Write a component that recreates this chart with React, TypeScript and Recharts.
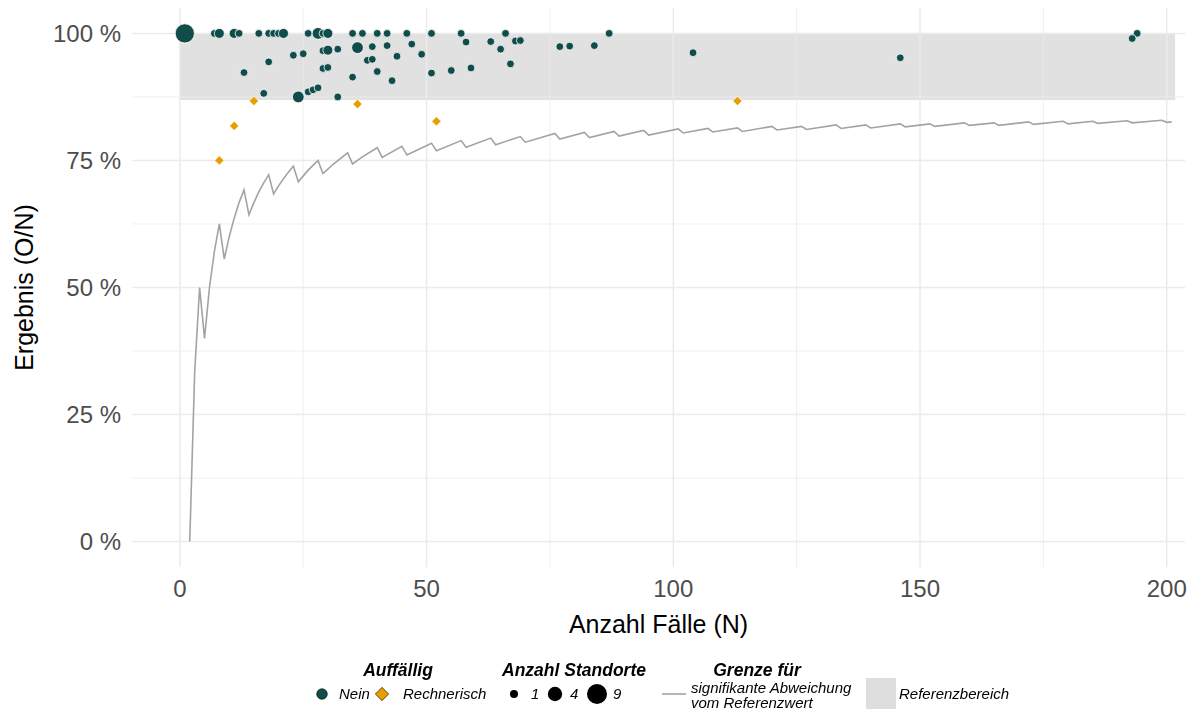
import React from 'react';
import {
  ComposedChart,
  Scatter,
  Line,
  XAxis,
  YAxis,
  ZAxis,
  ReferenceArea,
  ReferenceLine,
  Label,
} from 'recharts';

// Standorte, unauffällig: Fälle N, Ergebnis in %, Anzahl Standorte
const neinN = [1, 7, 8, 11, 12, 16, 18, 19, 20, 21, 26, 28, 29, 30, 35, 37, 40, 42, 46, 51, 57, 66, 87, 194,
  13, 17, 18, 23, 24, 25, 26, 27, 28, 29, 29, 30, 30, 32, 32, 35, 36, 38, 39, 39, 40, 42, 43, 44, 47, 49,
  51, 55, 58, 59, 63, 65, 67, 68, 69, 77, 79, 84, 104, 146, 193];
const neinWert = [100, 100, 100, 100, 100, 100, 100, 100, 100, 100, 100, 100, 100, 100, 100, 100, 100, 100, 100, 100, 100, 100, 100, 100,
  92.3, 88.2, 94.4, 95.7, 87.5, 96.0, 88.5, 88.9, 89.3, 96.6, 93.1, 96.7, 93.3, 96.9, 87.5, 91.4, 97.2, 94.7, 97.4, 94.9, 92.5, 97.6, 90.7, 95.5, 97.9, 95.9,
  92.2, 92.7, 98.3, 93.2, 98.4, 96.9, 94.0, 98.5, 98.6, 97.4, 97.5, 97.6, 96.2, 95.2, 99.0];
const neinAnzahl = [9, 1, 2, 2, 1, 1, 1, 1, 1, 2, 1, 3, 1, 2, 1, 1, 1, 1, 1, 1, 1, 1, 1, 1,
  1, 1, 1, 1, 3, 1, 1, 1, 1, 1, 1, 2, 1, 1, 1, 1, 3, 1, 1, 1, 1, 1, 1, 1, 1, 1,
  1, 1, 1, 1, 1, 1, 1, 1, 1, 1, 1, 1, 1, 1, 1];

// rechnerisch auffällig
const rechnN = [8, 11, 15, 36, 52, 113];
const rechnWert = [75.0, 81.8, 86.7, 86.1, 82.7, 86.7];

// Grenze für signifikante Abweichung (Eckpunkte der Linie)
const grenzeN = [2, 3, 4, 5, 6, 7, 8, 9, 10, 11, 12, 13, 14, 15, 16, 17, 18, 19, 20, 21, 22, 23, 24, 26, 28, 29,
  31, 34, 35, 37, 40, 41, 45, 46, 51, 52, 57, 58, 63, 64, 69, 70, 76, 77, 82, 83, 88, 89, 94, 95,
  101, 102, 107, 108, 113, 114, 120, 121, 126, 127, 133, 134, 139, 140, 146, 147, 152, 153,
  159, 160, 165, 166, 172, 173, 179, 180, 185, 186, 192, 193, 199, 200, 201];
const grenzeWert = [0, 33.3, 50.0, 40.0, 50.0, 57.1, 62.5, 55.6, 60.0, 63.6, 66.7, 69.2, 64.3, 66.7, 68.8, 70.6, 72.2, 68.4, 70.0, 71.4, 72.7, 73.9, 70.8, 73.1, 75.0, 72.4,
  74.2, 76.5, 74.3, 75.7, 77.5, 75.6, 77.8, 76.1, 78.4, 76.9, 78.9, 77.6, 79.4, 78.1, 79.7, 78.6, 80.3, 79.2, 80.5, 79.5, 80.7, 79.8, 80.9, 80.0,
  81.2, 80.4, 81.3, 80.6, 81.4, 80.7, 81.7, 81.0, 81.7, 81.1, 82.0, 81.3, 82.0, 81.4, 82.2, 81.6, 82.2, 81.7,
  82.4, 81.9, 82.4, 81.9, 82.6, 82.1, 82.7, 82.2, 82.7, 82.3, 82.8, 82.4, 82.9, 82.5, 82.6];

// Referenzbereich
const refBereich = { x1: 0, x2: 201.7, y1: 86.9, y2: 100 };

const xTicks = [0, 50, 100, 150, 200];
const xMinor = [25, 75, 125, 175];
const yTicks = [0, 25, 50, 75, 100];
const yMinor = [12.5, 37.5, 62.5, 87.5];

const FONT = '"Liberation Sans", Arial, Helvetica, sans-serif';
const TEAL = '#104d4a';
const ORANGE = '#e69f00';
const GRID = '#ebebeb';

const neinData = neinN.map((n, i) => ({ x: n, y: neinWert[i], z: neinAnzahl[i] }));
const rechnData = rechnN.map((n, i) => ({ x: n, y: rechnWert[i], z: 1 }));
const grenzeData = grenzeN.map((n, i) => ({ x: n, y: grenzeWert[i] }));

const Diamond = (props: any) => {
  const { cx, cy } = props;
  const h = 4.6;
  return (
    <path
      d={`M${cx},${cy - h}L${cx + h},${cy}L${cx},${cy + h}L${cx - h},${cy}Z`}
      fill={ORANGE}
      stroke="#fff"
      strokeWidth={0.6}
    />
  );
};

// Legende unter dem Diagramm, am Fensterrand fixiert
function Legende() {
  const title = { fontFamily: FONT, fontSize: 17.5, fontWeight: 700, fontStyle: 'italic' as const, fill: '#000' };
  const lab = { fontFamily: FONT, fontSize: 15, fontStyle: 'italic' as const, fill: '#000' };
  return (
    <svg
      width={1181}
      height={65}
      style={{ position: 'fixed', left: 8, top: 648 }}
    >
      <text x={390} y={28} textAnchor="middle" style={title}>Auffällig</text>
      <circle cx={314} cy={46} r={5.3} fill={TEAL} stroke="#000" strokeWidth={0.6} />
      <text x={331} y={51} style={lab}>Nein</text>
      <path d="M374,39.3L380.7,46L374,52.7L367.3,46Z" fill={ORANGE} stroke="#000" strokeWidth={0.6} />
      <text x={395} y={51} style={lab}>Rechnerisch</text>

      <text x={566} y={28} textAnchor="middle" style={title}>Anzahl Standorte</text>
      <circle cx={506} cy={46} r={4} fill="#000" />
      <text x={523} y={51} style={lab}>1</text>
      <circle cx={547} cy={46} r={7.2} fill="#000" />
      <text x={562} y={51} style={lab}>4</text>
      <circle cx={589} cy={46} r={10} fill="#000" />
      <text x={605} y={51} style={lab}>9</text>

      <text x={749} y={28} textAnchor="middle" style={title}>Grenze für</text>
      <line x1={654} x2={678} y1={46} y2={46} stroke="#a3a3a3" strokeWidth={1.6} />
      <text x={683} y={45} style={lab}>signifikante Abweichung</text>
      <text x={683} y={60} style={lab}>vom Referenzwert</text>

      <rect x={858} y={30} width={30} height={31} fill="#dedede" />
      <text x={891} y={51} style={lab}>Referenzbereich</text>
    </svg>
  );
}

export default function App() {
  return (
    <div style={{ position: 'relative', width: 1181, height: 697, fontFamily: FONT }}>
      <ComposedChart
        width={1181}
        height={697}
        margin={{ top: 0, right: 4, bottom: 58, left: 0 }}
      >
        <XAxis
          type="number"
          dataKey="x"
          domain={[-9.7, 203.7]}
          ticks={xTicks}
          allowDataOverflow
          axisLine={false}
          tickLine={false}
          tickSize={0}
          tickMargin={12.5}
          height={80}
          tick={{ fill: '#4d4d4d', fontSize: 24, fontFamily: FONT }}
        >
          <Label
            value="Anzahl Fälle (N)"
            position="insideBottom"
            offset={14.5}
            fontSize={25}
            fill="#000"
            fontFamily={FONT}
          />
        </XAxis>
        <YAxis
          type="number"
          dataKey="y"
          domain={[-5, 105]}
          ticks={yTicks}
          allowDataOverflow
          axisLine={false}
          tickLine={false}
          tickSize={0}
          tickMargin={11}
          width={124}
          tickFormatter={(v: number) => `${v} %`}
          tick={{ fill: '#4d4d4d', fontSize: 24, fontFamily: FONT }}
        >
          <Label
            value="Ergebnis (O/N)"
            angle={-90}
            position="insideLeft"
            offset={16}
            fontSize={25}
            fill="#000"
            fontFamily={FONT}
            style={{ textAnchor: 'middle' }}
          />
        </YAxis>
        <ZAxis type="number" dataKey="z" domain={[1, 9]} range={[48, 290]} />

        {yMinor.map((v) => (
          <ReferenceLine key={`ym${v}`} y={v} stroke={GRID} strokeWidth={0.8} />
        ))}
        {xMinor.map((v) => (
          <ReferenceLine key={`xm${v}`} x={v} stroke={GRID} strokeWidth={0.8} />
        ))}
        {yTicks.map((v) => (
          <ReferenceLine key={`y${v}`} y={v} stroke={GRID} strokeWidth={1.5} />
        ))}
        {xTicks.map((v) => (
          <ReferenceLine key={`x${v}`} x={v} stroke={GRID} strokeWidth={1.5} />
        ))}

        <ReferenceArea
          x1={refBereich.x1}
          x2={refBereich.x2}
          y1={refBereich.y1}
          y2={refBereich.y2}
          fill="#bdbdbd"
          fillOpacity={0.45}
          stroke="none"
        />

        <Line
          data={grenzeData}
          dataKey="y"
          type="linear"
          stroke="#a3a3a3"
          strokeWidth={1.6}
          dot={false}
          activeDot={false}
          isAnimationActive={false}
        />
        <Scatter
          data={neinData}
          shape="circle"
          fill={TEAL}
          stroke="#fff"
          strokeWidth={0.8}
          isAnimationActive={false}
        />
        <Scatter
          data={rechnData}
          shape={<Diamond />}
          isAnimationActive={false}
        />
      </ComposedChart>
      <Legende />
    </div>
  );
}
